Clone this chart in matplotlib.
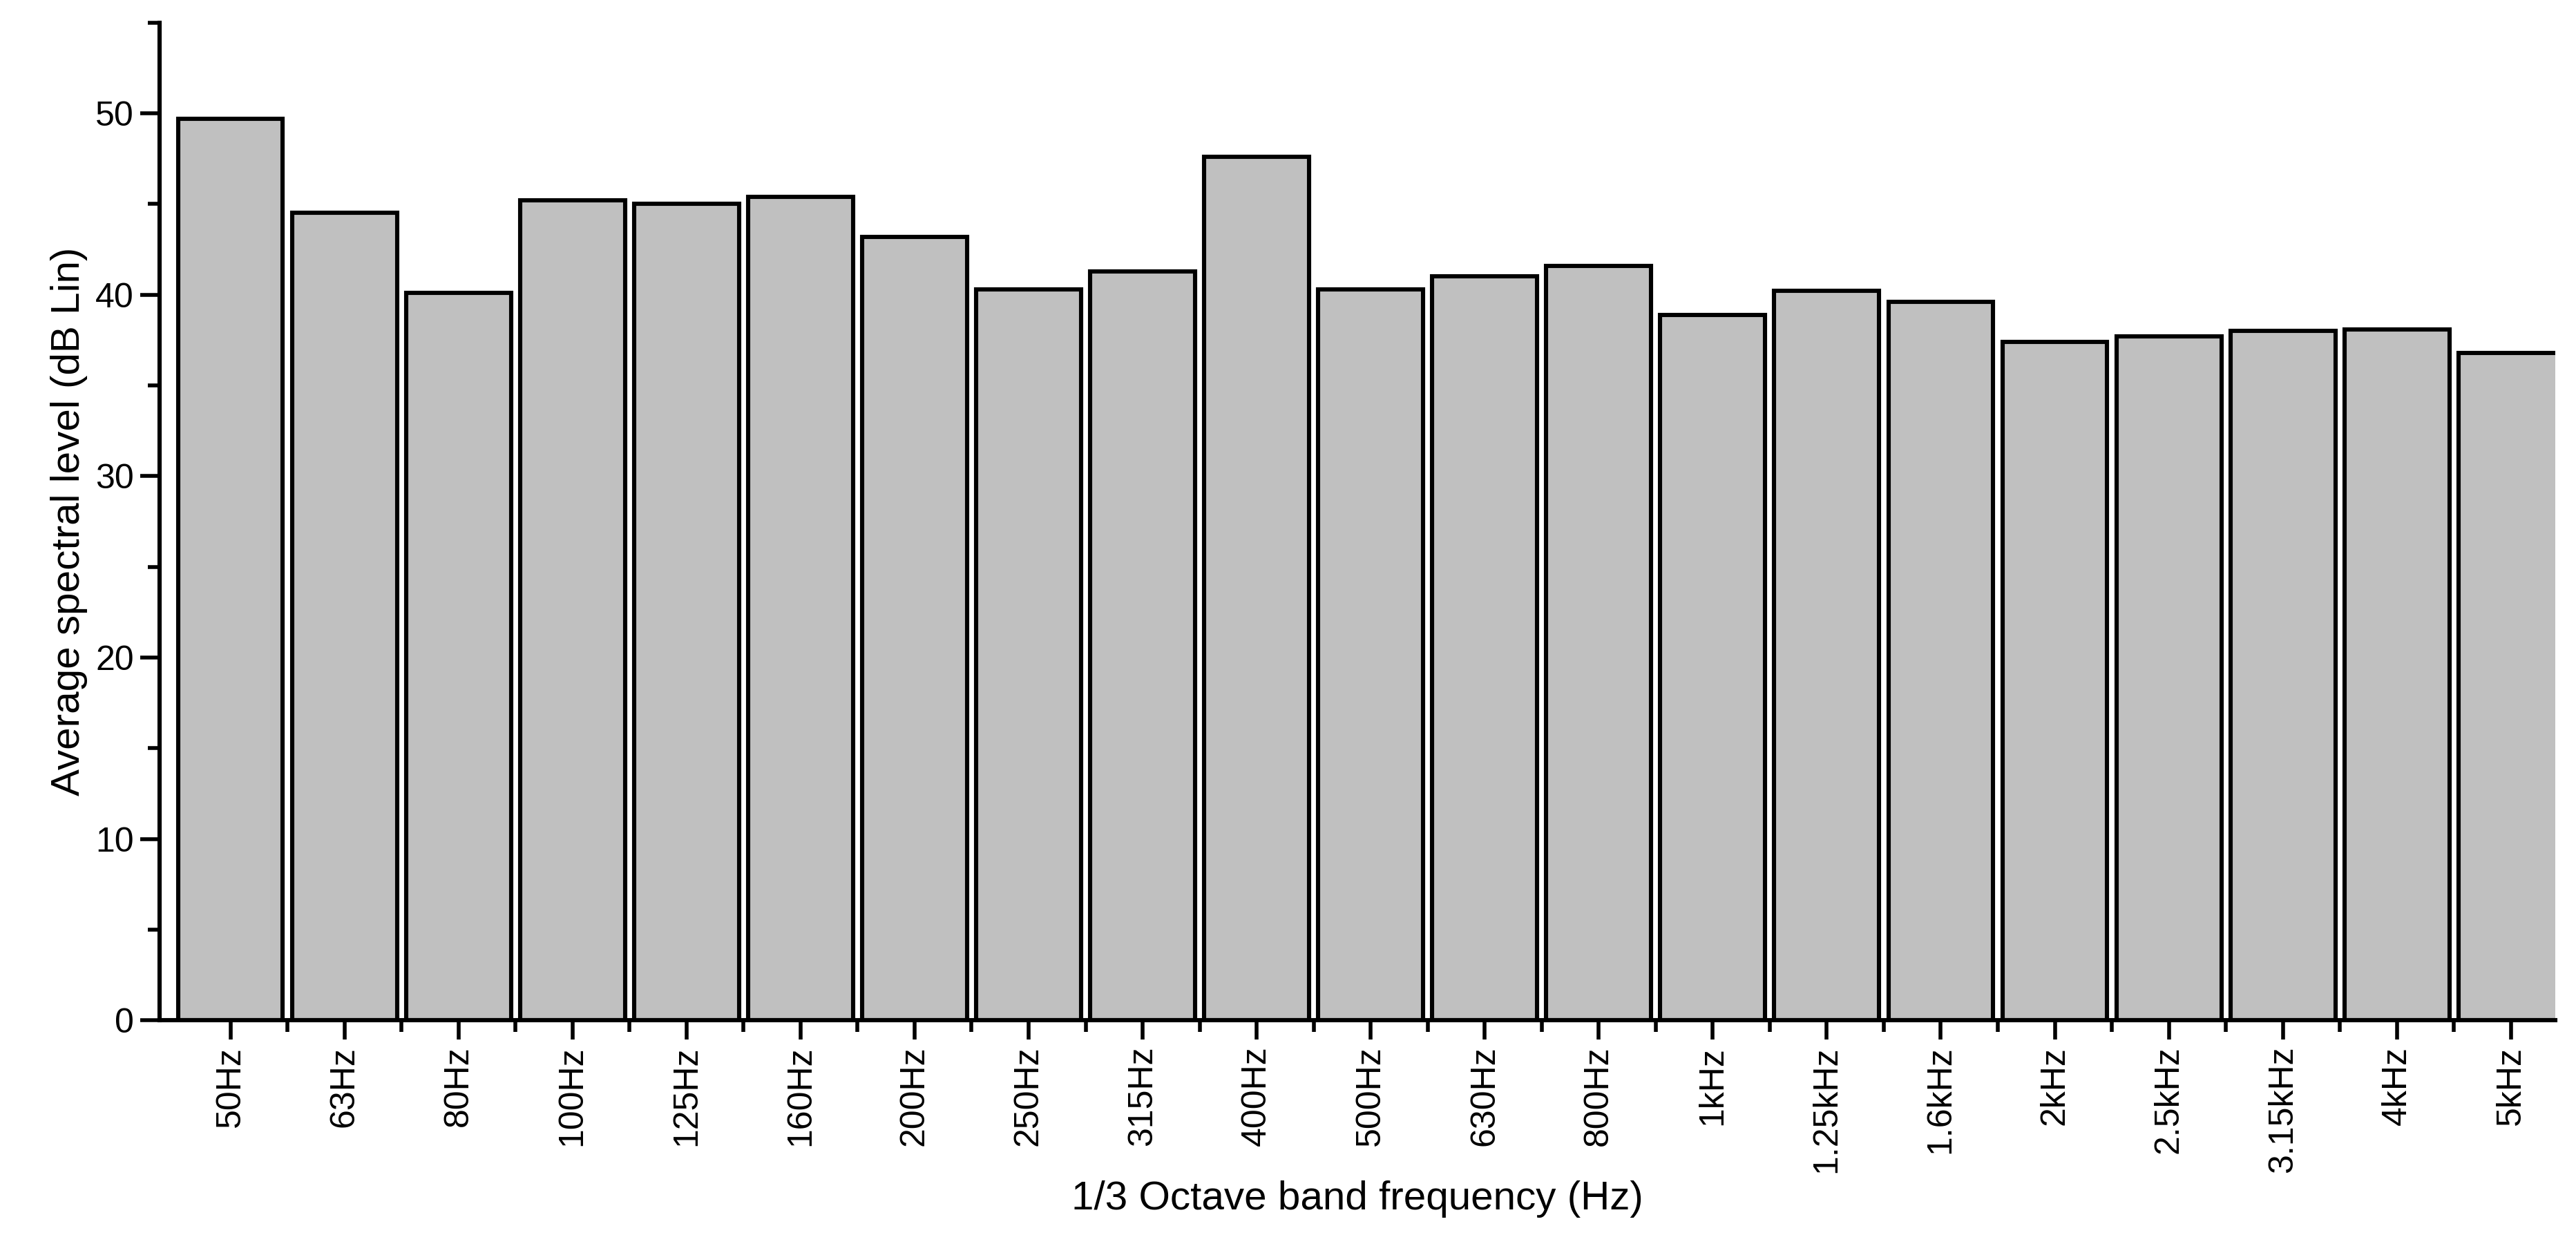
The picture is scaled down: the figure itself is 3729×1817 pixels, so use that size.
import matplotlib.pyplot as plt
from matplotlib.ticker import MultipleLocator, FixedLocator
import numpy as np

plt.rcParams['font.family'] = ['Liberation Sans', 'DejaVu Sans']

# 1/3倍频程频带及平均谱级
bands = ['50Hz', '63Hz', '80Hz', '100Hz', '125Hz', '160Hz', '200Hz', '250Hz',
         '315Hz', '400Hz', '500Hz', '630Hz', '800Hz', '1kHz', '1.25kHz',
         '1.6kHz', '2kHz', '2.5kHz', '3.15kHz', '4kHz', '5kHz']
levels = [49.7, 44.5, 40.1, 45.2, 45.0, 45.4, 43.2, 40.3, 41.3, 47.6, 40.3,
          41.0, 41.6, 38.9, 40.2, 39.6, 37.4, 37.7, 38.0, 38.1, 36.8]

fig = plt.figure(figsize=(18.645, 9.085), dpi=200)
ax = fig.add_axes([0.062, 0.187, 0.93, 0.795])

x = np.arange(len(bands))
ax.bar(x, levels, width=0.92, color='#c0c0c0', edgecolor='black', linewidth=2.2)

ax.set_xlim(-0.62, len(bands) - 0.61)
ax.set_ylim(0, 55)
ax.set_xticks(x)
ax.set_xticklabels(bands, rotation=90, fontsize=18)
ax.xaxis.set_minor_locator(FixedLocator(x[:-1] + 0.5))
ax.yaxis.set_major_locator(MultipleLocator(10))
ax.yaxis.set_minor_locator(MultipleLocator(5))
ax.tick_params(axis='both', which='major', direction='out', length=10, width=2, labelsize=18)
ax.tick_params(axis='both', which='minor', direction='out', length=6, width=2)

for side in ['top', 'right']:
    ax.spines[side].set_visible(False)
for side in ['left', 'bottom']:
    ax.spines[side].set_linewidth(2.2)

ax.set_xlabel('1/3 Octave band frequency (Hz)', fontsize=21, labelpad=4)
ax.set_ylabel('Average spectral level (dB Lin)', fontsize=21)

fig.savefig('out.png', dpi=200)
